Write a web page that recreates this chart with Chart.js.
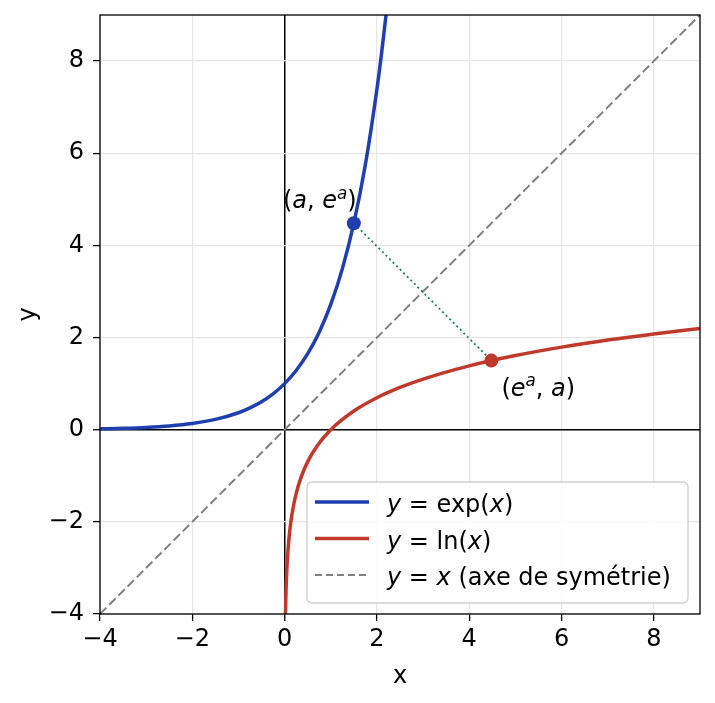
<!DOCTYPE html>
<html>
<head>
<meta charset="utf-8">
<script src="https://cdn.jsdelivr.net/npm/chart.js@4.4.1/dist/chart.umd.min.js"></script>
<style>
  html, body { margin: 0; padding: 0; background: #fff; }
  #wrap { width: 715px; height: 703px; }
</style>
</head>
<body>
<div id="wrap"><canvas id="c"></canvas></div>
<script>
// values
const expX = [-4, -3.5, -3, -2.5, -2, -1.5, -1, -0.75, -0.5, -0.25, 0, 0.25, 0.5, 0.75, 1, 1.25, 1.5, 1.75, 2, 2.1, 2.2];
const expY = [0.018, 0.030, 0.050, 0.082, 0.135, 0.223, 0.368, 0.472, 0.607, 0.779, 1, 1.284, 1.649, 2.117, 2.718, 3.490, 4.482, 5.755, 7.389, 8.166, 9.025];

const lnX = [0.018, 0.03, 0.05, 0.08, 0.12, 0.18, 0.25, 0.35, 0.5, 0.7, 1, 1.5, 2, 2.5, 3, 4, 5, 6, 7, 8, 9];
const lnY = [-4.017, -3.507, -2.996, -2.526, -2.120, -1.715, -1.386, -1.050, -0.693, -0.357, 0, 0.405, 0.693, 0.916, 1.099, 1.386, 1.609, 1.792, 1.946, 2.079, 2.197];

const diagX = [-4, 9];
const diagY = [-4, 9];

const pointA = [1.5, 4.48];     // (a, e^a)
const pointB = [4.48, 1.5];     // (e^a, a)

const axisMin = -4;
const axisMax = 9;
const tickValues = [-4, -2, 0, 2, 4, 6, 8];

const legendLabels = [
  [['y', 1], [' = ', 0], ['exp(', 0], ['x', 1], [')', 0]],
  [['y', 1], [' = ', 0], ['ln(', 0], ['x', 1], [')', 0]],
  [['y', 1], [' = ', 0], ['x', 1], [' (axe de symétrie)', 0]]
];

const BLUE = '#1f3fae';
const RED = '#c0392b';
const GRAY = '#808080';
const GREEN = '#1e8449';
const FONT = '"DejaVu Sans", sans-serif';
const FS = 24;

const zip = (xs, ys) => xs.map((x, i) => ({ x: x, y: ys[i] }));
const minus = v => String(v).replace('-', '\u2212');

// draws a string made of [text, italic, superscript] pieces
function drawMath(ctx, parts, x, y, size) {
  let cx = x;
  parts.forEach(p => {
    const sup = p[2];
    const fs = sup ? size * 0.7 : size;
    ctx.font = (p[1] ? 'italic ' : '') + fs + 'px ' + FONT;
    ctx.fillText(p[0], cx, sup ? y - size * 0.38 : y);
    cx += ctx.measureText(p[0]).width;
  });
  return cx - x;
}

function mathWidth(ctx, parts, size) {
  let w = 0;
  parts.forEach(p => {
    const fs = p[2] ? size * 0.7 : size;
    ctx.font = (p[1] ? 'italic ' : '') + fs + 'px ' + FONT;
    w += ctx.measureText(p[0]).width;
  });
  return w;
}

const extras = {
  id: 'extras',
  afterDraw(chart) {
    const ctx = chart.ctx;
    const a = chart.chartArea;
    const xs = chart.scales.x, ys = chart.scales.y;
    ctx.save();

    // frame
    ctx.strokeStyle = '#000';
    ctx.lineWidth = 1.3;
    ctx.strokeRect(a.left, a.top, a.right - a.left, a.bottom - a.top);

    // point labels
    ctx.fillStyle = '#000';
    ctx.textBaseline = 'alphabetic';
    const labA = [['(', 0], ['a', 1], [', ', 0], ['e', 1], ['a', 1, 1], [')', 0]];
    const pa = [xs.getPixelForValue(pointA[0]), ys.getPixelForValue(pointA[1])];
    const wA = mathWidth(ctx, labA, FS);
    drawMath(ctx, labA, pa[0] - 34 - wA / 2, pa[1] - 15, FS);

    const labB = [['(', 0], ['e', 1], ['a', 1, 1], [', ', 0], ['a', 1], [')', 0]];
    const pb = [xs.getPixelForValue(pointB[0]), ys.getPixelForValue(pointB[1])];
    drawMath(ctx, labB, pb[0] + 10, pb[1] + 35, FS);

    // legend
    const lw = 381, lh = 121;
    const lx = a.right - 12 - lw, ly = a.bottom - 11 - lh;
    ctx.beginPath();
    ctx.roundRect(lx, ly, lw, lh, 5);
    ctx.fillStyle = 'rgba(255,255,255,0.85)';
    ctx.fill();
    ctx.strokeStyle = '#d0d0d0';
    ctx.lineWidth = 1.3;
    ctx.stroke();

    const styles = [
      { c: BLUE, w: 3.5, d: [] },
      { c: RED, w: 3.5, d: [] },
      { c: GRAY, w: 2, d: [7, 4] }
    ];
    legendLabels.forEach((parts, i) => {
      const yy = ly + 20 + i * 36.5;
      ctx.beginPath();
      ctx.strokeStyle = styles[i].c;
      ctx.lineWidth = styles[i].w;
      ctx.setLineDash(styles[i].d);
      ctx.moveTo(lx + 8, yy);
      ctx.lineTo(lx + 62, yy);
      ctx.stroke();
      ctx.setLineDash([]);
      ctx.fillStyle = '#000';
      drawMath(ctx, parts, lx + 80, yy + 10, FS);
    });
    ctx.restore();
  }
};

const gridColor = c => c.tick && c.tick.value === 0 ? '#000' : '#e6e6e6';
const gridWidth = c => c.tick && c.tick.value === 0 ? 1.5 : 1.2;
const setTicks = s => { s.ticks = tickValues.map(v => ({ value: v })); };

new Chart(document.getElementById('c'), {
  type: 'scatter',
  data: {
    datasets: [
      { data: zip(expX, expY), showLine: true, borderColor: BLUE, borderWidth: 3.5,
        pointRadius: 0, cubicInterpolationMode: 'monotone', order: 3 },
      { data: zip(lnX, lnY), showLine: true, borderColor: RED, borderWidth: 3.5,
        pointRadius: 0, cubicInterpolationMode: 'monotone', order: 3 },
      { data: zip(diagX, diagY), showLine: true, borderColor: GRAY, borderWidth: 2,
        borderDash: [9, 4], pointRadius: 0, order: 4 },
      { data: [{ x: pointA[0], y: pointA[1] }, { x: pointB[0], y: pointB[1] }], showLine: true,
        borderColor: GREEN, borderWidth: 1.8, borderDash: [2, 3], pointRadius: 0, order: 2 },
      { data: [{ x: pointA[0], y: pointA[1] }], pointRadius: 7, pointBackgroundColor: BLUE,
        pointBorderWidth: 0, order: 1 },
      { data: [{ x: pointB[0], y: pointB[1] }], pointRadius: 7, pointBackgroundColor: RED,
        pointBorderWidth: 0, order: 1 }
    ]
  },
  options: {
    responsive: true,
    maintainAspectRatio: false,
    animation: false,
    layout: { padding: { top: 15, right: 15, left: 0, bottom: 0 } },
    plugins: { legend: { display: false }, tooltip: { enabled: false } },
    scales: {
      x: {
        type: 'linear', min: axisMin, max: axisMax,
        afterFit: s => { s.height = 89; s.paddingLeft = 0; s.paddingRight = 0; },
        afterBuildTicks: setTicks,
        ticks: { color: '#000', padding: 4, maxRotation: 0,
                 font: { family: FONT, size: FS }, callback: v => minus(v) },
        grid: { color: gridColor, lineWidth: gridWidth, tickColor: '#000', tickLength: 7, tickWidth: 1.3 },
        border: { display: false },
        title: { display: true, text: 'x', color: '#000', font: { family: FONT, size: FS },
                 padding: { top: 0, bottom: 12 } }
      },
      y: {
        type: 'linear', min: axisMin, max: axisMax,
        afterFit: s => { s.width = 100; s.paddingTop = 0; s.paddingBottom = 0; },
        afterBuildTicks: setTicks,
        ticks: { color: '#000', padding: 9,
                 font: { family: FONT, size: FS }, callback: v => minus(v) },
        grid: { color: gridColor, lineWidth: gridWidth, tickColor: '#000', tickLength: 7, tickWidth: 1.3 },
        border: { display: false },
        title: { display: true, text: 'y', color: '#000', font: { family: FONT, size: FS },
                 padding: { top: 14, bottom: 0 } }
      }
    }
  },
  plugins: [extras]
});
</script>
</body>
</html>
